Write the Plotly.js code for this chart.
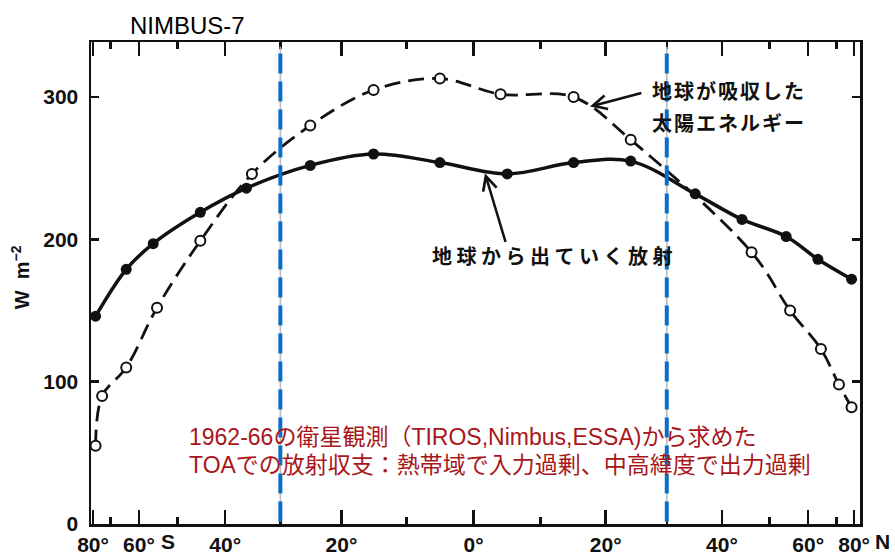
<!DOCTYPE html>
<html>
<head>
<meta charset="utf-8">
<script src="https://cdn.plot.ly/plotly-3.0.1.min.js"></script>
<style>
  html, body { margin: 0; padding: 0; background: #fff; }
  #chart { width: 895px; height: 555px; }
</style>
</head>
<body>
<div id="chart"></div>
<script>
// Zonal-mean top-of-atmosphere radiation (W m^-2) against latitude.
// The latitude axis is area-weighted: positions are sin(latitude).
const absorbedLat   = [-78, -74, -64, -55, -45, -35, -25, -15, -5, 4, 15, 24, 46, 55, 64, 71, 78];
const absorbedValue = [55, 90, 110, 152, 199, 246, 280, 305, 313, 302, 300, 270, 191, 150, 123, 98, 82];
const emittedLat    = [-78, -64, -56, -45, -36, -25, -15, -5, 5, 15, 24, 35, 44, 54, 63, 78];
const emittedValue  = [146, 179, 197, 219, 236, 252, 260, 254, 246, 254, 255, 232, 214, 202, 186, 172];

const majorTickLat  = [-80, -60, -40, -20, 0, 20, 40, 60, 80];
const majorTickText = ['80°', '60°', '40°', '20°', '0°', '20°', '40°', '60°', '80°'];
const minorTickLat  = [-70, -50, -30, -10, 10, 30, 50, 70];
const yTickVals     = [0, 100, 200, 300];
const boundaryLat   = [-30, 30];

const sinLat = lat => Math.sin(lat * Math.PI / 180);

const tickFont = { family: 'Liberation Sans Narrow, Arial Narrow, Liberation Sans, sans-serif', size: 21, color: '#111', weight: 700 };
const jpFont = { family: 'Noto Sans CJK JP, sans-serif', size: 20, color: '#111', weight: 700 };
const redFont = { family: 'Liberation Sans, Noto Sans CJK JP, sans-serif', size: 23, color: '#a8161a' };

const traces = [
  {
    x: absorbedLat.map(sinLat), y: absorbedValue,
    mode: 'lines+markers', type: 'scatter',
    line: { color: '#111', width: 2.8, dash: '16px,8px', shape: 'spline', smoothing: 1 },
    marker: { symbol: 'circle', size: 10, color: '#fff', line: { color: '#111', width: 2 } },
    hoverinfo: 'skip'
  },
  {
    x: emittedLat.map(sinLat), y: emittedValue,
    mode: 'lines+markers', type: 'scatter',
    line: { color: '#111', width: 3.5, shape: 'spline', smoothing: 1 },
    marker: { symbol: 'circle', size: 11, color: '#111' },
    hoverinfo: 'skip'
  }
];

const shapes = [];
boundaryLat.forEach(lat => {
  shapes.push({ type: 'line', xref: 'x', yref: 'paper', x0: sinLat(lat), x1: sinLat(lat), y0: 0.005, y1: 0.99,
                line: { color: '#b8b8b8', width: 1.5 } });
  shapes.push({ type: 'line', xref: 'x', yref: 'paper', x0: sinLat(lat), x1: sinLat(lat), y0: 0.005, y1: 0.99,
                line: { color: '#0b6fc4', width: 4, dash: '20px,8px' } });
});

const annotations = [
  { xref: 'paper', yref: 'paper', x: 0.048, y: 1.035, xanchor: 'left', yanchor: 'middle', showarrow: false,
    text: 'NIMBUS-7', font: { family: 'Liberation Sans, Arial, sans-serif', size: 24, color: '#000' } },
  { xref: 'paper', yref: 'paper', x: 0.727, y: 0.900, xanchor: 'left', yanchor: 'middle', showarrow: false,
    text: '<span style="letter-spacing:2px">地球が吸収した</span>', font: jpFont },
  { xref: 'paper', yref: 'paper', x: 0.727, y: 0.834, xanchor: 'left', yanchor: 'middle', showarrow: false,
    text: '<span style="letter-spacing:2px">太陽エネルギー</span>', font: jpFont },
  { xref: 'paper', yref: 'paper', x: 0.4408, y: 0.558, xanchor: 'left', yanchor: 'middle', showarrow: false,
    text: '<span style="letter-spacing:4.5px">地球から出ていく放射</span>', font: jpFont },
  { xref: 'x', yref: 'y', x: 0.301, y: 293.3, ax: 53, ay: -14, text: '', showarrow: true,
    arrowhead: 5, arrowsize: 1.1, arrowwidth: 2.5, arrowcolor: '#111' },
  { xref: 'x', yref: 'y', x: 0.0295, y: 246.4, ax: 21, ay: 70, text: '', showarrow: true,
    arrowhead: 5, arrowsize: 1.1, arrowwidth: 2.5, arrowcolor: '#111' },
  { xref: 'paper', yref: 'paper', x: 0.1248, y: 0.1805, xanchor: 'left', yanchor: 'middle', showarrow: false,
    text: '1962-66の衛星観測（TIROS,Nimbus,ESSA)から求めた', font: redFont },
  { xref: 'paper', yref: 'paper', x: 0.1248, y: 0.1224, xanchor: 'left', yanchor: 'middle', showarrow: false,
    text: 'TOAでの放射収支：熱帯域で入力過剰、中高緯度で出力過剰', font: redFont },
  { xref: 'paper', yref: 'paper', x: (168 - 91) / 769, y: (524 - 541) / 482, xanchor: 'center', yanchor: 'middle',
    showarrow: false, text: 'S', font: tickFont },
  { xref: 'paper', yref: 'paper', x: (882 - 91) / 769, y: (524 - 541) / 482, xanchor: 'center', yanchor: 'middle',
    showarrow: false, text: 'N', font: tickFont },
  { xref: 'paper', yref: 'paper', x: (20 - 91) / 769, y: 0.512, xanchor: 'center', yanchor: 'middle',
    showarrow: false, textangle: -90, text: 'W  m<sup>−2</sup>',
    font: { family: 'Liberation Sans, Arial, sans-serif', size: 20, color: '#111', weight: 700 } }
];

const layout = {
  width: 895, height: 555,
  margin: { l: 91, r: 35, t: 42, b: 31, pad: 0 },
  paper_bgcolor: '#fff', plot_bgcolor: '#fff',
  showlegend: false,
  xaxis: {
    range: [-0.99, 1.0], fixedrange: true,
    tickmode: 'array', tickvals: majorTickLat.map(sinLat), ticktext: majorTickText,
    ticks: 'inside', ticklen: 14, tickwidth: 2.5, tickcolor: '#111',
    showline: true, linewidth: 2.5, linecolor: '#111', mirror: 'ticks',
    showgrid: false, zeroline: false, tickfont: tickFont, ticklabelstandoff: 0,
    minor: { tickmode: 'array', tickvals: minorTickLat.map(sinLat), ticks: 'inside', ticklen: 7,
             tickwidth: 2.5, tickcolor: '#111', showgrid: false }
  },
  yaxis: {
    range: [0, 338.7], fixedrange: true,
    tickmode: 'array', tickvals: yTickVals,
    ticks: 'inside', ticklen: 8, tickwidth: 2.5, tickcolor: '#111',
    showline: true, linewidth: 2.5, linecolor: '#111', mirror: 'ticks',
    showgrid: false, zeroline: false, tickfont: tickFont, ticklabelstandoff: 6
  },
  shapes: shapes,
  annotations: annotations
};

Plotly.newPlot('chart', traces, layout, { staticPlot: true, displayModeBar: false });
</script>
</body>
</html>
